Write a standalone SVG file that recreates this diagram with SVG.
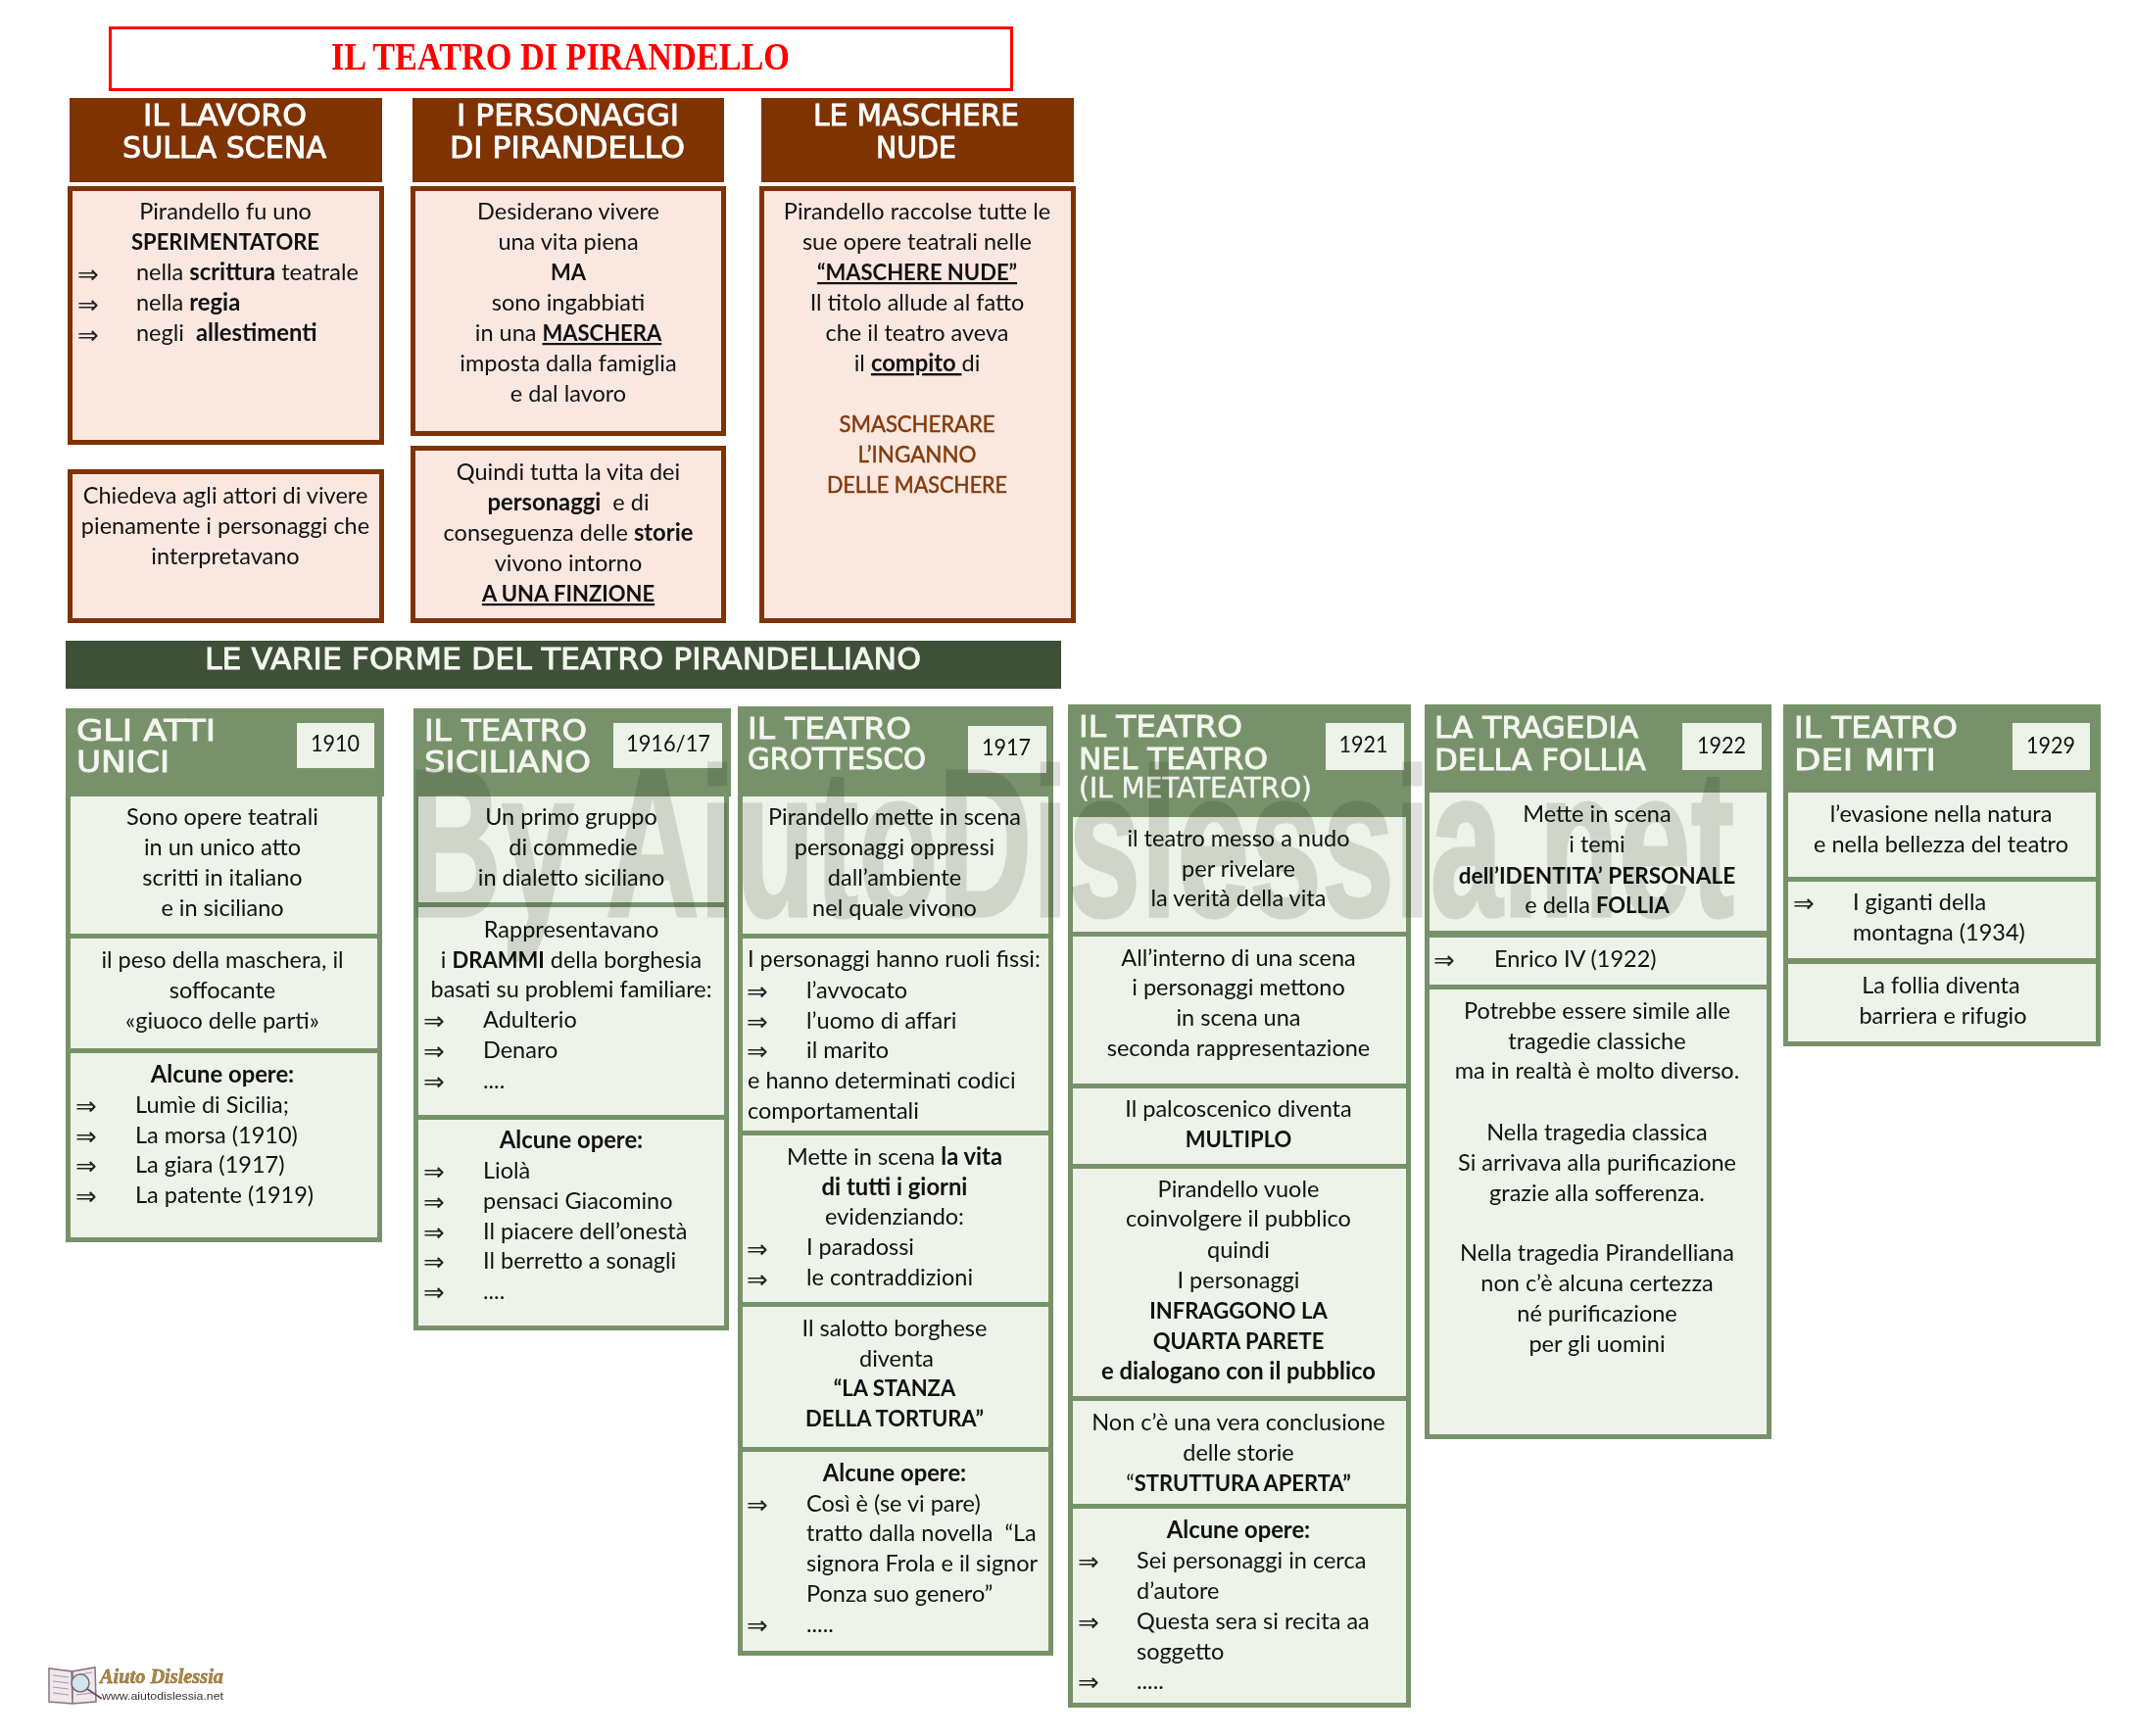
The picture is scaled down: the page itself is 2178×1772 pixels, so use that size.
<svg xmlns="http://www.w3.org/2000/svg" width="2178" height="1772" viewBox="0 0 2178 1772">
<style>
text{font-family:"Lato","Carlito","Open Sans",sans-serif;font-size:23.500px;fill:#111;white-space:pre}
.c{text-anchor:middle}
.b{font-weight:700;font-size:23.800px}
.k{font-weight:700;font-size:22px}
.u{text-decoration:underline}
.a{font-family:"DejaVu Sans",sans-serif;font-size:26px;fill:#222}
.h{font-family:"DejaVu Sans",sans-serif;font-size:31px;fill:#fff;stroke:#fff;stroke-width:.9}
.gh{fill:#f3f6ef;stroke:#f3f6ef}
.br{fill:#7f3300}
.bx{fill:#fae7df;stroke:#7f3300;stroke-width:5}
.gr{fill:#77926a}
.ce{fill:#edf3e8}
.m{fill:#833c0b;stroke:#833c0b;stroke-width:.5}
</style>
<rect width="2178" height="1772" fill="#fff"/>
<g id="title"><rect x="112.500" y="28.500" width="920" height="63" fill="#fff" stroke="#f00" stroke-width="3"/>
<text x="338" y="71" textLength="468" lengthAdjust="spacingAndGlyphs" style="font-family:'Liberation Serif',serif;font-weight:700;font-size:39px;fill:#f00">IL TEATRO DI PIRANDELLO</text></g>

<g id="lavoro-head"><rect class="br" x="71" y="100" width="319" height="86"/>
<text class="h" x="146" y="128" textLength="167" lengthAdjust="spacingAndGlyphs">IL LAVORO</text><text class="h" x="125" y="161" textLength="208" lengthAdjust="spacingAndGlyphs">SULLA SCENA</text></g>
<g id="personaggi-head"><rect class="br" x="421" y="100" width="318" height="86"/>
<text class="h" x="466" y="128" textLength="227" lengthAdjust="spacingAndGlyphs">I PERSONAGGI</text><text class="h" x="459" y="161" textLength="240" lengthAdjust="spacingAndGlyphs">DI PIRANDELLO</text></g>
<g id="maschere-head"><rect class="br" x="777" y="100" width="319" height="86"/>
<text class="h" x="830" y="128" textLength="210" lengthAdjust="spacingAndGlyphs">LE MASCHERE</text><text class="h" x="894" y="161" textLength="82" lengthAdjust="spacingAndGlyphs">NUDE</text></g>

<g id="lavoro-1"><rect class="bx" x="71.500" y="192.500" width="318" height="259"/>
<text class="c" x="230" y="224">Pirandello fu uno</text>
<text class="c k" x="230" y="255">SPERIMENTATORE</text>
<text class="a" x="79" y="289">⇒</text><text x="139" y="286">nella <tspan class="b">scrittura</tspan> teatrale</text>
<text class="a" x="79" y="320">⇒</text><text x="139" y="317">nella <tspan class="b">regia</tspan></text>
<text class="a" x="79" y="351">⇒</text><text x="139" y="348">negli  <tspan class="b">allestimenti</tspan></text></g>
<g id="lavoro-2"><rect class="bx" x="71.500" y="481.500" width="318" height="152"/>
<text class="c" x="230" y="514">Chiedeva agli attori di vivere</text>
<text class="c" x="230" y="545">pienamente i personaggi che</text>
<text class="c" x="230" y="576">interpretavano</text></g>

<g id="personaggi-1"><rect class="bx" x="421.500" y="192.500" width="317" height="250"/>
<text class="c" x="580" y="224">Desiderano vivere</text>
<text class="c" x="580" y="255">una vita piena</text>
<text class="c k" x="580" y="286">MA</text>
<text class="c" x="580" y="317">sono ingabbiati</text>
<text class="c" x="580" y="348">in una <tspan class="k u">MASCHERA</tspan></text>
<text class="c" x="580" y="379">imposta dalla famiglia</text>
<text class="c" x="580" y="410">e dal lavoro</text></g>
<g id="personaggi-2"><rect class="bx" x="421.500" y="457.500" width="317" height="176"/>
<text class="c" x="580" y="490">Quindi tutta la vita dei</text>
<text class="c" x="580" y="521"><tspan class="b">personaggi</tspan>  e di</text>
<text class="c" x="580" y="552">conseguenza delle <tspan class="b">storie</tspan></text>
<text class="c" x="580" y="583">vivono intorno</text>
<text class="c k u" x="580" y="614">A UNA FINZIONE</text></g>

<g id="maschere-1"><rect class="bx" x="777.500" y="192.500" width="318" height="441"/>
<text class="c" x="936" y="224">Pirandello raccolse tutte le</text>
<text class="c" x="936" y="255">sue opere teatrali nelle</text>
<text class="c k u" x="936" y="286">“MASCHERE NUDE”</text>
<text class="c" x="936" y="317">Il titolo allude al fatto</text>
<text class="c" x="936" y="348">che il teatro aveva</text>
<text class="c" x="936" y="379">il <tspan class="b u">compito </tspan>di</text>
<text class="c m" x="936" y="441" textLength="159" lengthAdjust="spacingAndGlyphs">SMASCHERARE</text>
<text class="c m" x="936" y="472" textLength="121" lengthAdjust="spacingAndGlyphs">L’INGANNO</text>
<text class="c m" x="936" y="503" textLength="184" lengthAdjust="spacingAndGlyphs">DELLE MASCHERE</text></g>

<g id="band"><rect x="67" y="654" width="1016" height="49" fill="#3f5038"/>
<text class="h gh" x="209" y="683" textLength="731" lengthAdjust="spacingAndGlyphs">LE VARIE FORME DEL TEATRO PIRANDELLIANO</text></g>

<g id="atti-unici">
<rect class="gr" x="67" y="723" width="323" height="545"/><rect class="gr" x="67" y="723" width="325" height="90"/>
<rect class="ce" x="72" y="813" width="313" height="140"/><rect class="ce" x="72" y="958" width="313" height="112"/><rect class="ce" x="72" y="1075" width="313" height="188"/>
<rect class="ce" x="303" y="738" width="79" height="46"/>
<text class="h gh" x="78" y="756" textLength="142" lengthAdjust="spacingAndGlyphs">GLI ATTI</text><text class="h gh" x="78" y="788" textLength="95" lengthAdjust="spacingAndGlyphs">UNICI</text>
<text class="c" x="342" y="767" textLength="50" lengthAdjust="spacingAndGlyphs">1910</text>
<text class="c" x="227" y="842">Sono opere teatrali</text>
<text class="c" x="227" y="873">in un unico atto</text>
<text class="c" x="227" y="904">scritti in italiano</text>
<text class="c" x="227" y="935">e in siciliano</text>
<text class="c" x="227" y="988">il peso della maschera, il</text>
<text class="c" x="227" y="1019">soffocante</text>
<text class="c" x="227" y="1050">«giuoco delle parti»</text>
<text class="c b" x="227" y="1105">Alcune opere:</text>
<text class="a" x="77" y="1138">⇒</text><text x="138" y="1136">Lumìe di Sicilia;</text>
<text class="a" x="77" y="1169">⇒</text><text x="138" y="1167">La morsa (1910)</text>
<text class="a" x="77" y="1199">⇒</text><text x="138" y="1197">La giara (1917)</text>
<text class="a" x="77" y="1230">⇒</text><text x="138" y="1228">La patente (1919)</text>
</g>

<g id="siciliano">
<rect class="gr" x="422" y="723" width="322" height="635"/><rect class="gr" x="422" y="723" width="324" height="90"/>
<rect class="ce" x="427" y="813" width="312" height="108"/><rect class="ce" x="427" y="926" width="312" height="212"/><rect class="ce" x="427" y="1143" width="312" height="210"/>
<rect class="ce" x="626" y="738" width="111" height="46"/>
<text class="h gh" x="433" y="756" textLength="166" lengthAdjust="spacingAndGlyphs">IL TEATRO</text><text class="h gh" x="433" y="788" textLength="170" lengthAdjust="spacingAndGlyphs">SICILIANO</text>
<text class="c" x="682" y="767" textLength="86" lengthAdjust="spacingAndGlyphs">1916/17</text>
<text class="c" x="583" y="842">Un primo gruppo</text>
<text class="c" x="585" y="873">di commedie</text>
<text class="c" x="583" y="904">in dialetto siciliano</text>
<text class="c" x="583" y="957">Rappresentavano</text>
<text class="c" x="583" y="988">i <tspan class="k">DRAMMI</tspan> della borghesia</text>
<text class="c" x="583" y="1018">basati su problemi familiare:</text>
<text class="a" x="432" y="1051">⇒</text><text x="493" y="1049">Adulterio</text>
<text class="a" x="432" y="1082">⇒</text><text x="493" y="1080">Denaro</text>
<text class="a" x="432" y="1113">⇒</text><text x="493" y="1111">....</text>
<text class="c b" x="583" y="1172">Alcune opere:</text>
<text class="a" x="432" y="1205">⇒</text><text x="493" y="1203">Liolà</text>
<text class="a" x="432" y="1236">⇒</text><text x="493" y="1234">pensaci Giacomino</text>
<text class="a" x="432" y="1267">⇒</text><text x="493" y="1265">Il piacere dell’onestà</text>
<text class="a" x="432" y="1297">⇒</text><text x="493" y="1295">Il berretto a sonagli</text>
<text class="a" x="432" y="1328">⇒</text><text x="493" y="1326">....</text>
</g>

<g id="grottesco">
<rect class="gr" x="753" y="721" width="322" height="969"/>
<rect class="ce" x="758" y="813" width="312" height="140"/><rect class="ce" x="758" y="958" width="312" height="196"/><rect class="ce" x="758" y="1159" width="312" height="170"/><rect class="ce" x="758" y="1334" width="312" height="143"/><rect class="ce" x="758" y="1482" width="312" height="203"/>
<rect class="ce" x="988" y="741" width="80" height="48"/>
<text class="h gh" x="763" y="754" textLength="167" lengthAdjust="spacingAndGlyphs">IL TEATRO</text><text class="h gh" x="763" y="785" textLength="182" lengthAdjust="spacingAndGlyphs">GROTTESCO</text>
<text class="c" x="1027" y="771" textLength="50" lengthAdjust="spacingAndGlyphs">1917</text>
<text class="c" x="913" y="842">Pirandello mette in scena</text>
<text class="c" x="913" y="873">personaggi oppressi</text>
<text class="c" x="913" y="904">dall’ambiente</text>
<text class="c" x="913" y="935">nel quale vivono</text>
<text x="763" y="987">I personaggi hanno ruoli fissi:</text>
<text class="a" x="762" y="1021">⇒</text><text x="823" y="1019">l’avvocato</text>
<text class="a" x="762" y="1052">⇒</text><text x="823" y="1050">l’uomo di affari</text>
<text class="a" x="762" y="1082">⇒</text><text x="823" y="1080">il marito</text>
<text x="763" y="1111">e hanno determinati codici</text>
<text x="763" y="1142">comportamentali</text>
<text class="c" x="913" y="1189">Mette in scena <tspan class="b">la vita</tspan></text>
<text class="c b" x="913" y="1220">di tutti i giorni</text>
<text class="c" x="913" y="1250">evidenziando:</text>
<text class="a" x="762" y="1284">⇒</text><text x="823" y="1281">I paradossi</text>
<text class="a" x="762" y="1315">⇒</text><text x="823" y="1312">le contraddizioni</text>
<text class="c" x="913" y="1364">Il salotto borghese</text>
<text class="c" x="915" y="1395">diventa</text>
<text class="c k" x="913" y="1425">“LA STANZA</text>
<text class="c k" x="913" y="1456">DELLA TORTURA”</text>
<text class="c b" x="913" y="1512">Alcune opere:</text>
<text class="a" x="762" y="1545">⇒</text><text x="823" y="1543">Così è (se vi pare)</text>
<text x="823" y="1573">tratto dalla novella  “La</text>
<text x="823" y="1604">signora Frola e il signor</text>
<text x="823" y="1635">Ponza suo genero”</text>
<text class="a" x="762" y="1668">⇒</text><text x="823" y="1666">.....</text>
</g>

<g id="metateatro">
<rect class="gr" x="1090" y="719" width="350" height="1024"/>
<rect class="ce" x="1095" y="834" width="340" height="117"/><rect class="ce" x="1095" y="956" width="340" height="150"/><rect class="ce" x="1095" y="1111" width="340" height="77"/><rect class="ce" x="1095" y="1193" width="340" height="232"/><rect class="ce" x="1095" y="1430" width="340" height="105"/><rect class="ce" x="1095" y="1540" width="340" height="198"/>
<rect class="ce" x="1353" y="738" width="80" height="48"/>
<text class="h gh" x="1101" y="752" textLength="167" lengthAdjust="spacingAndGlyphs">IL TEATRO</text><text class="h gh" x="1101" y="785" textLength="193" lengthAdjust="spacingAndGlyphs">NEL TEATRO</text><text class="h gh" x="1101" y="814" textLength="238" lengthAdjust="spacingAndGlyphs" style="font-size:28px;stroke-width:.4">(IL METATEATRO)</text>
<text class="c" x="1391.500" y="768" textLength="50" lengthAdjust="spacingAndGlyphs">1921</text>
<text class="c" x="1264" y="864">il teatro messo a nudo</text>
<text class="c" x="1264" y="895">per rivelare</text>
<text class="c" x="1264" y="925">la verità della vita</text>
<text class="c" x="1264" y="986">All’interno di una scena</text>
<text class="c" x="1264" y="1016">i personaggi mettono</text>
<text class="c" x="1264" y="1047">in scena una</text>
<text class="c" x="1264" y="1078">seconda rappresentazione</text>
<text class="c" x="1264" y="1140">Il palcoscenico diventa</text>
<text class="c k" x="1264" y="1171">MULTIPLO</text>
<text class="c" x="1264" y="1222">Pirandello vuole</text>
<text class="c" x="1264" y="1252">coinvolgere il pubblico</text>
<text class="c" x="1264" y="1284">quindi</text>
<text class="c" x="1264" y="1315">I personaggi</text>
<text class="c k" x="1264" y="1346">INFRAGGONO LA</text>
<text class="c k" x="1264" y="1377">QUARTA PARETE</text>
<text class="c b" x="1264" y="1408">e dialogano con il pubblico</text>
<text class="c" x="1264" y="1460">Non c’è una vera conclusione</text>
<text class="c" x="1264" y="1491">delle storie</text>
<text class="c" x="1264" y="1522">“<tspan class="k">STRUTTURA APERTA”</tspan></text>
<text class="c b" x="1264" y="1570">Alcune opere:</text>
<text class="a" x="1100" y="1603">⇒</text><text x="1160" y="1601">Sei personaggi in cerca</text>
<text x="1160" y="1632">d’autore</text>
<text class="a" x="1100" y="1665">⇒</text><text x="1160" y="1663">Questa sera si recita aa</text>
<text x="1160" y="1694">soggetto</text>
<text class="a" x="1100" y="1726">⇒</text><text x="1160" y="1724">.....</text>
</g>

<g id="follia">
<rect class="gr" x="1454" y="719" width="354" height="750"/>
<rect class="ce" x="1459" y="809" width="344" height="141"/><rect class="ce" x="1459" y="957" width="344" height="48"/><rect class="ce" x="1459" y="1010" width="344" height="454"/>
<rect class="ce" x="1717" y="738" width="81" height="48"/>
<text class="h gh" x="1464" y="753" textLength="208" lengthAdjust="spacingAndGlyphs">LA TRAGEDIA</text><text class="h gh" x="1464" y="786" textLength="216" lengthAdjust="spacingAndGlyphs">DELLA FOLLIA</text>
<text class="c" x="1757" y="769" textLength="50" lengthAdjust="spacingAndGlyphs">1922</text>
<text class="c" x="1630" y="839">Mette in scena</text>
<text class="c" x="1630" y="870">i temi</text>
<text class="c" x="1630" y="902" style="font-weight:700;font-size:22.600px">dell’IDENTITA’ PERSONALE</text>
<text class="c" x="1630" y="932">e della <tspan class="k">FOLLIA</tspan></text>
<text class="a" x="1463" y="989">⇒</text><text x="1525" y="987">Enrico IV (1922)</text>
<text class="c" x="1630" y="1040">Potrebbe essere simile alle</text>
<text class="c" x="1630" y="1071">tragedie classiche</text>
<text class="c" x="1630" y="1101">ma in realtà è molto diverso.</text>
<text class="c" x="1630" y="1164">Nella tragedia classica</text>
<text class="c" x="1630" y="1195">Si arrivava alla purificazione</text>
<text class="c" x="1630" y="1226">grazie alla sofferenza.</text>
<text class="c" x="1630" y="1287">Nella tragedia Pirandelliana</text>
<text class="c" x="1630" y="1318">non c’è alcuna certezza</text>
<text class="c" x="1630" y="1349">né purificazione</text>
<text class="c" x="1630" y="1380">per gli uomini</text>
</g>

<g id="miti">
<rect class="gr" x="1820" y="719" width="324" height="349"/>
<rect class="ce" x="1825" y="809" width="314" height="86"/><rect class="ce" x="1825" y="900" width="314" height="78"/><rect class="ce" x="1825" y="984" width="314" height="79"/>
<rect class="ce" x="2054" y="738" width="79" height="48"/>
<text class="h gh" x="1831" y="753" textLength="167" lengthAdjust="spacingAndGlyphs">IL TEATRO</text><text class="h gh" x="1831" y="786" textLength="145" lengthAdjust="spacingAndGlyphs">DEI MITI</text>
<text class="c" x="2093" y="769" textLength="50" lengthAdjust="spacingAndGlyphs">1929</text>
<text class="c" x="1981" y="839">l’evasione nella natura</text>
<text class="c" x="1981" y="870">e nella bellezza del teatro</text>
<text class="a" x="1830" y="931">⇒</text><text x="1891" y="929">I giganti della</text>
<text x="1891" y="960">montagna (1934)</text>
<text class="c" x="1981" y="1014">La follia diventa</text>
<text class="c" x="1983" y="1045">barriera e rifugio</text>
</g>

<g id="watermark" style="mix-blend-mode:multiply"><text x="416" y="935" textLength="1354" lengthAdjust="spacingAndGlyphs" style="font-family:'Liberation Sans',sans-serif;font-weight:700;font-size:215px;fill:#dfe0dc;stroke:#dfe0dc;stroke-width:3">By AiutoDislessia.net</text></g>

<g id="logo">
<path d="M50 1703L73 1706L74 1739L50 1737ZM74 1706L97 1702L98 1737L74 1739Z" fill="#efe8ea" stroke="#8a6f86" stroke-width="1.500"/>
<path d="M54 1710L70 1712M54 1716L70 1718M54 1722L70 1724M54 1728L70 1730M78 1730L94 1728M78 1710L94 1707" stroke="#a79aa8" stroke-width="1.200" fill="none"/>
<circle cx="82" cy="1718" r="9" fill="#cfe6ee" stroke="#7a6a7a" stroke-width="1.500"/>
<path d="M89 1724L104 1734" stroke="#6a4a6a" stroke-width="2" fill="none"/>
<text x="102" y="1718" textLength="126" lengthAdjust="spacingAndGlyphs" style="font-family:'Liberation Serif',serif;font-style:italic;font-weight:700;font-size:20px;fill:#b08a44;stroke:#6d4f20;stroke-width:.4">Aiuto Dislessia</text>
<text x="104" y="1735" textLength="124" lengthAdjust="spacingAndGlyphs" style="font-family:'Liberation Sans',sans-serif;font-size:11.500px;fill:#333">www.aiutodislessia.net</text>
</g>
</svg>
